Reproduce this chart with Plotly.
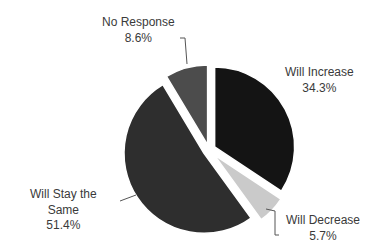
import plotly.graph_objects as go

labels = ["Will Increase", "Will Decrease", "Will Stay the Same", "No Response"]
values = [34.3, 5.7, 51.4, 8.6]
label_text = ["Will Increase<br>34.3%", "Will Decrease<br>5.7%", "Will Stay the<br>Same<br>51.4%", "No Response<br>8.6%"]
colors = ["#141414", "#cacaca", "#2e2e2e", "#4c4c4c"]
pulls = [0.08, 0.09, 0.075, 0.065]

W, H = 379, 243
cx, cy = 201 / W, 1 - 142 / H
hh = 174.4 / H / 2
hw = 190 / W / 2
fig = go.Figure(go.Pie(
    labels=labels, values=values, sort=False, direction="clockwise", rotation=0,
    marker=dict(colors=colors, line=dict(color="white", width=1.5)),
    pull=pulls, textinfo="none", hoverinfo="none", showlegend=False,
    domain=dict(x=[cx - hw, cx + hw], y=[cy - hh, cy + hh]),
))

# label centres (px) for each category
ann_pos = [(311, 72), (315, 220), (55, 201), (130, 22)]
for (x, y), t in zip(ann_pos, label_text):
    fig.add_annotation(x=x / W, y=1 - y / H, xref="paper", yref="paper",
                       text=t, showarrow=False, xanchor="center", yanchor="middle", align="center",
                       font=dict(family="Liberation Sans, Arial", size=12, color="#3a3a3a"))

def line(pts):
    path = "M " + " L ".join(f"{x / W},{1 - y / H}" for x, y in pts)
    fig.add_shape(type="path", path=path, xref="paper", yref="paper",
                  line=dict(color="#555", width=1))

line([(172, 30), (177, 30), (179, 56)])
line([(258, 201), (267, 203), (267, 227), (271, 227)])
line([(112, 193), (128, 187)])

fig.update_layout(width=W, height=H, margin=dict(l=0, r=0, t=0, b=0),
                  paper_bgcolor="white", plot_bgcolor="white")
fig.write_html("out.html")
